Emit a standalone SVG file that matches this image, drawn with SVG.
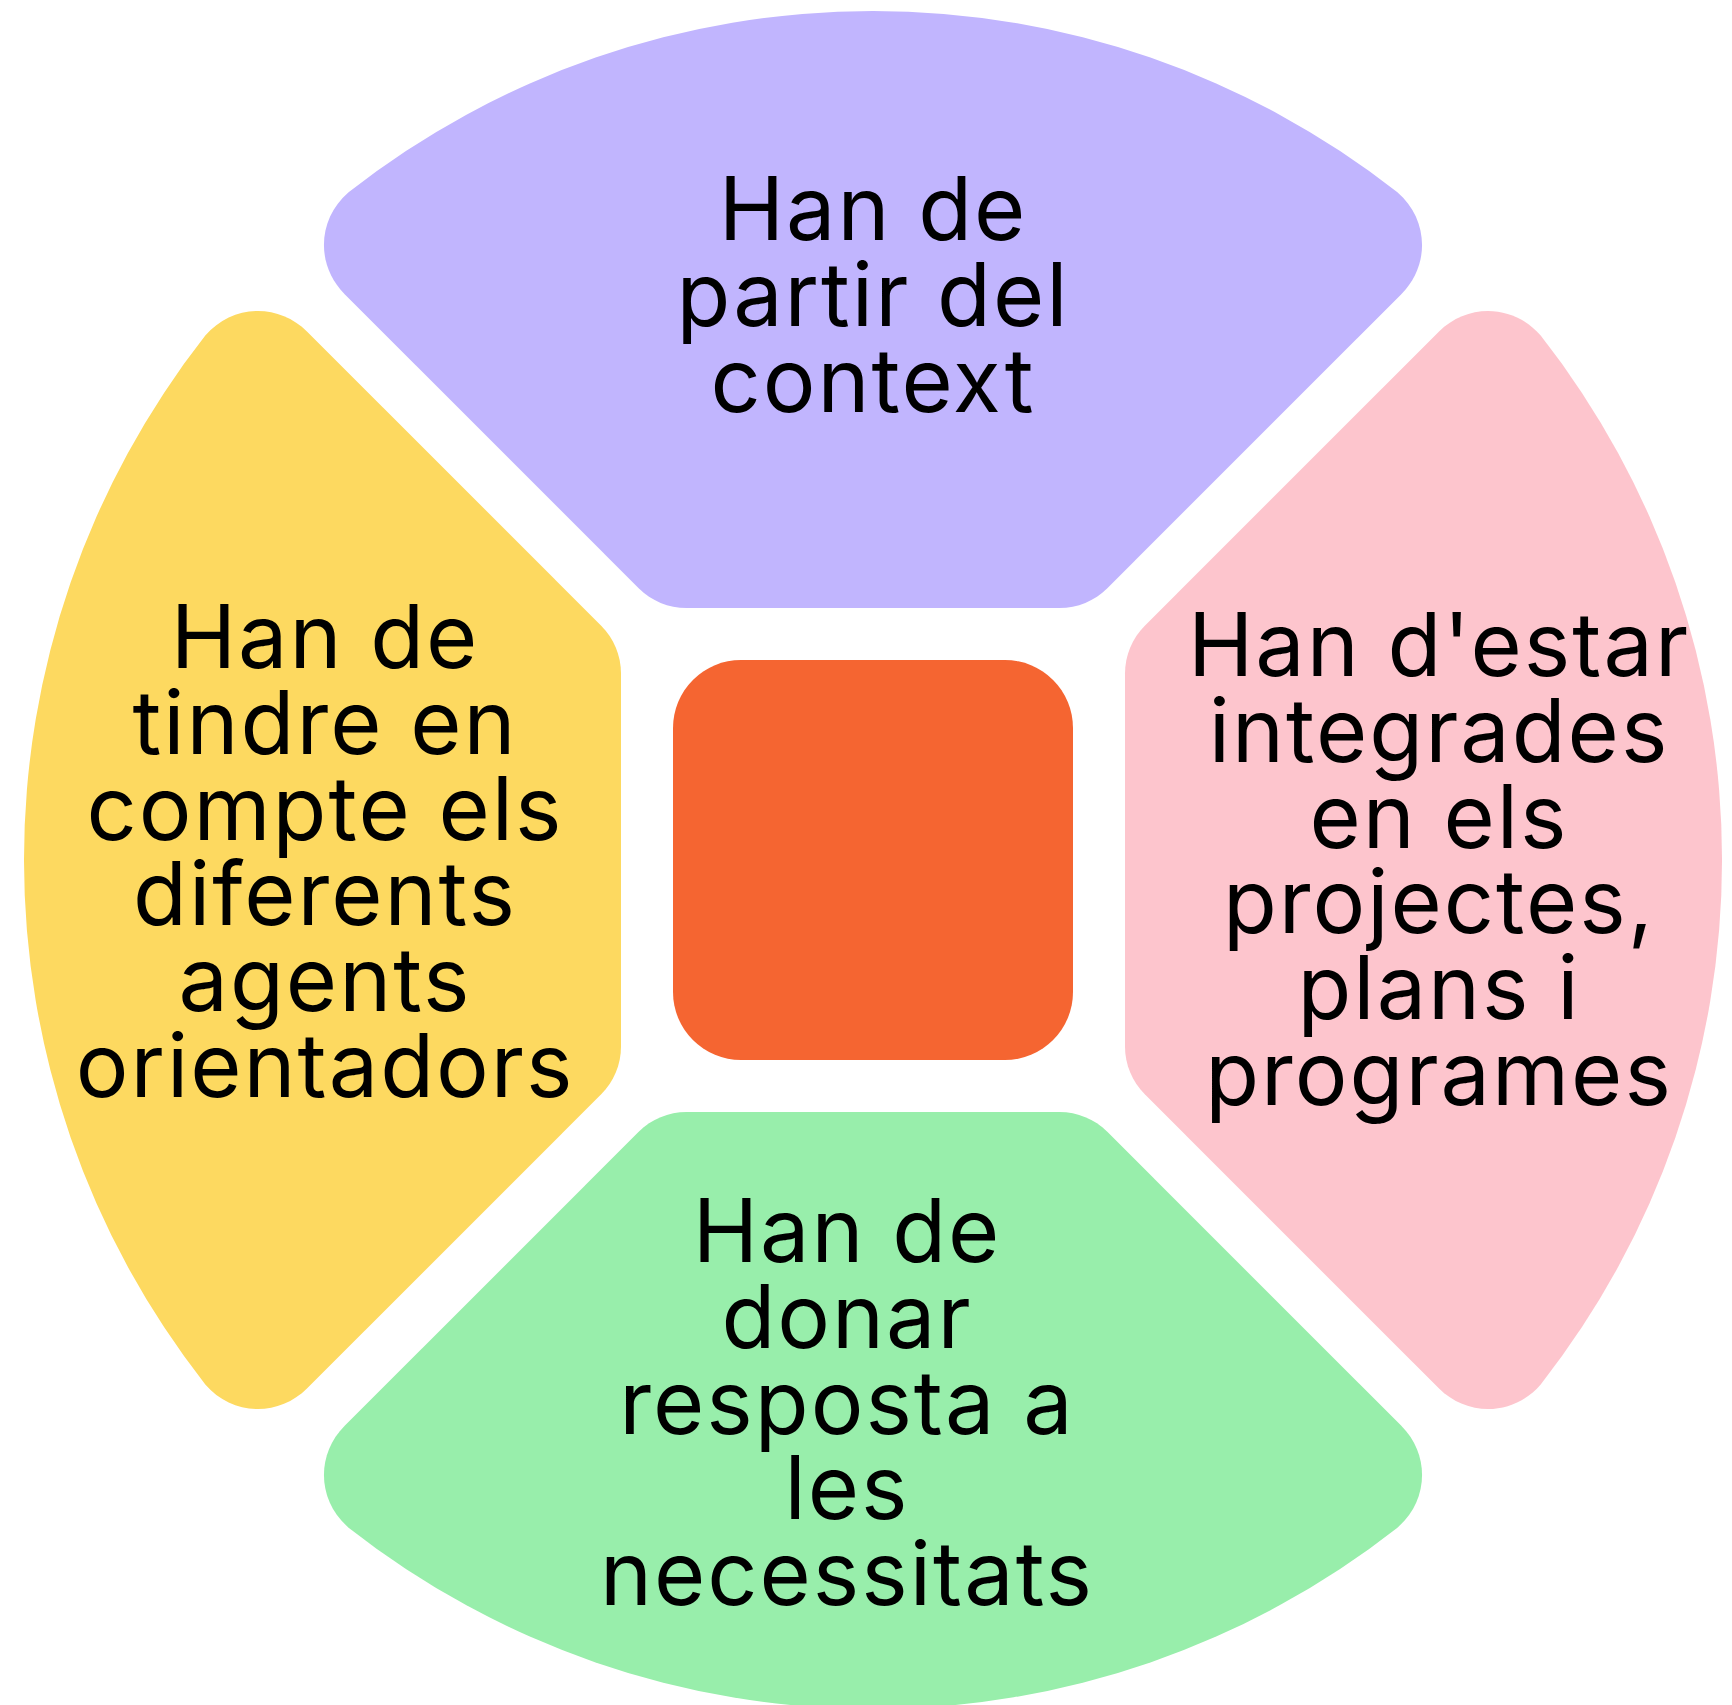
<svg xmlns="http://www.w3.org/2000/svg" width="1732" height="1705" viewBox="0 0 1732 1705">
  <style>
    .lbl { font-family: Inter, "DejaVu Sans", sans-serif; font-size: 88px; letter-spacing: 2px; fill: #000; text-anchor: middle; }
  </style>
  <defs>
    <path id="petal" d="M -524.4,-667.7 A 849 849 0 0 1 524.4,-667.7 C 555.7,-640.8 557.4,-594.9 528.3,-565.8 L 234.3,-271.8 C 221.6,-259.1 204.4,-252 186.5,-252 L -186.5,-252 C -204.4,-252 -221.6,-259.1 -234.3,-271.8 L -528.3,-565.8 C -557.4,-594.9 -555.7,-640.8 -524.4,-667.7 Z"/>
  </defs>
  <rect width="1732" height="1705" fill="#ffffff"/>
  <g id="nodes">
    <g id="node-top">
      <use href="#petal" transform="translate(873,860)" fill="#C1B5FE"/>
      <text class="lbl"><tspan x="873" y="240">Han de</tspan><tspan x="873" y="326">partir del</tspan><tspan x="873" y="412">context</tspan></text>
    </g>
    <g id="node-right">
      <use href="#petal" transform="translate(873,860) rotate(90)" fill="#FDC5CD"/>
      <text class="lbl"><tspan x="1439" y="676">Han d'estar</tspan><tspan x="1439" y="762">integrades</tspan><tspan x="1439" y="848">en els</tspan><tspan x="1439" y="933">projectes,</tspan><tspan x="1439" y="1019">plans i</tspan><tspan x="1439" y="1105">programes</tspan></text>
    </g>
    <g id="node-bottom">
      <use href="#petal" transform="translate(873,860) rotate(180)" fill="#98EEAB"/>
      <text class="lbl"><tspan x="847" y="1262">Han de</tspan><tspan x="847" y="1348">donar</tspan><tspan x="847" y="1434">resposta a</tspan><tspan x="847" y="1519">les</tspan><tspan x="847" y="1605">necessitats</tspan></text>
    </g>
    <g id="node-left">
      <use href="#petal" transform="translate(873,860) rotate(-90)" fill="#FDD960"/>
      <text class="lbl"><tspan x="325" y="668">Han de</tspan><tspan x="325" y="754">tindre en</tspan><tspan x="325" y="840">compte els</tspan><tspan x="325" y="925">diferents</tspan><tspan x="325" y="1011">agents</tspan><tspan x="325" y="1097">orientadors</tspan></text>
    </g>
    <g id="node-center">
      <rect x="673" y="660" width="400" height="400" rx="68" ry="68" fill="#F56531"/>
    </g>
  </g>
  <g id="connectors"></g>
</svg>
